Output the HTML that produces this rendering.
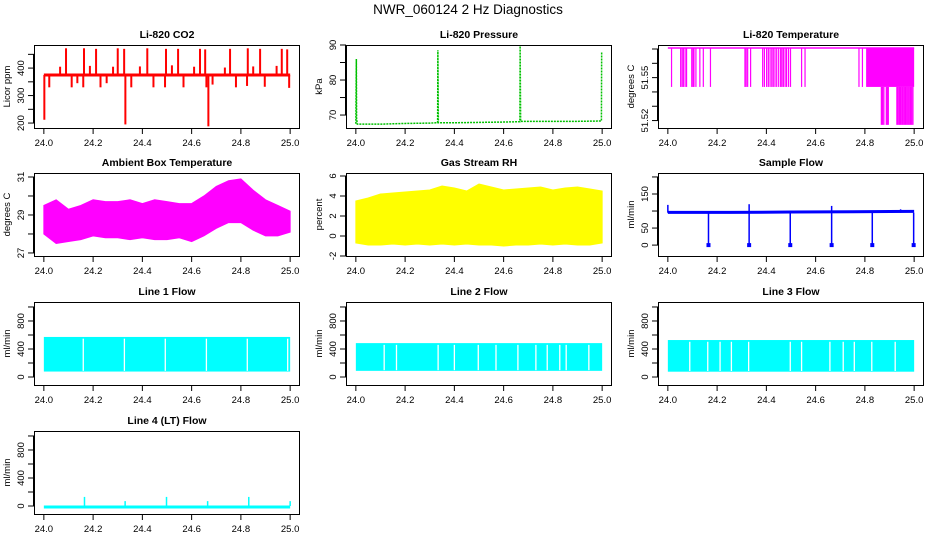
<!DOCTYPE html>
<html><head><meta charset="utf-8"><style>
body{margin:0;background:#fff;}
svg{display:block;font-family:"Liberation Sans",Arial,sans-serif;}
</style></head><body>
<svg id="chart" width="936" height="540" viewBox="0 0 936 540" xmlns="http://www.w3.org/2000/svg">
<rect x="0" y="0" width="936" height="540" fill="#fff"/>
<text x="468" y="14" text-anchor="middle" font-size="13.5">NWR_060124  2 Hz Diagnostics</text>
</svg>
<script>
// ---- data ----
const xTicks = [24.0, 24.2, 24.4, 24.6, 24.8, 25.0];
const xTickLabels = ["24.0", "24.2", "24.4", "24.6", "24.8", "25.0"];
// CO2
const co2Base = [375];
const co2SpikeX = [24.09,24.163,24.212,24.30,24.326,24.42,24.496,24.545,24.634,24.655,24.756,24.828,24.878,24.966,24.988,
  24.066,24.187,24.281,24.39,24.52,24.61,24.735,24.85,24.945,
  24.022,24.113,24.136,24.16,24.23,24.255,24.355,24.445,24.492,24.567,24.66,24.685,24.78,24.825,24.897,24.996,
  24.331,24.668,24.002];
const co2SpikeY = [472,472,470,472,470,472,470,470,470,468,470,472,470,470,468,
  405,408,405,406,410,405,402,406,408,
  330,330,345,330,330,345,330,330,330,330,330,340,330,335,332,328,
  195,188,212];
// Pressure
const presX = [24.0,24.002,24.003,24.006,24.1,24.2,24.3,24.332,24.333,24.335,24.4,24.5,24.6,24.666,24.667,24.669,24.8,24.9,24.997,24.998,25.0];
const presY = [67.5,86,69,67.4,67.4,67.6,67.7,67.8,88.5,67.8,67.8,67.9,68.0,68.1,89.7,68.2,68.2,68.2,68.3,88,88];
// Li-820 temperature
const ltTop = [51.5707];
const ltDropX = [24.015,24.052,24.058,24.063,24.07,24.076,24.097,24.102,24.106,24.114,24.13,24.144,24.173,24.313,24.318,24.324,24.336,
  24.385,24.392,24.401,24.408,24.415,24.422,24.428,24.435,24.442,24.45,24.458,24.463,24.469,24.476,24.482,24.49,24.498,24.543,24.557,24.776,24.79];
const ltDropY = [51.5435];
const ltBandStart = [24.805];
const ltLowX = [24.867,24.872,24.877,24.887,24.891,24.895,24.93,24.935,24.94,24.945,24.95,24.955,24.96,24.965,24.97,24.975,24.98,24.985,24.99,24.995];
const ltLowY = [51.517];
// Ambient box temperature (envelope per 0.05 day)
const ambX = [24.0,24.05,24.1,24.15,24.2,24.25,24.3,24.35,24.4,24.45,24.5,24.55,24.6,24.65,24.7,24.75,24.8,24.85,24.9,24.95,25.0];
const ambHi = [29.5,29.8,29.3,29.5,29.8,29.7,29.7,29.8,29.6,29.8,29.7,29.6,29.6,30.0,30.5,30.8,30.9,30.3,29.8,29.5,29.2];
const ambLo = [28.0,27.5,27.6,27.7,27.9,27.8,27.8,27.7,27.8,27.7,27.7,27.8,27.6,27.9,28.3,28.6,28.6,28.2,27.9,27.9,28.1];
// Gas stream RH
const rhX = ambX;
const rhHi = [3.5,3.8,4.2,4.3,4.4,4.5,4.6,5.0,4.8,4.5,5.2,4.9,4.6,4.7,4.8,4.9,4.6,4.8,4.9,4.7,4.5];
const rhLo = [-0.7,-0.9,-0.9,-0.8,-0.9,-0.8,-0.9,-0.8,-0.9,-0.8,-0.9,-0.9,-1.0,-0.9,-0.9,-0.8,-0.9,-0.8,-0.9,-0.9,-0.7];
// Sample flow
const sfX = [24.0,24.25,24.5,24.75,25.0];
const sfY = [96,96,97,98,99];
const sfDropX = [24.165,24.33,24.497,24.665,24.83,24.998];
const sfSpikeX = [24.0,24.33,24.665,24.945];
const sfSpikeY = [118,120,115,105];
// Line flows: band lo/hi and gap positions
const l1Lo = [78], l1Hi = [572];
const l1GapX = [24.16,24.327,24.493,24.66,24.826,24.99];
const l2Lo = [88], l2Hi = [484];
const l2GapX = [24.115,24.165,24.334,24.4,24.497,24.569,24.658,24.731,24.777,24.828,24.854,24.946];
const l3Lo = [76], l3Hi = [528];
const l3GapX = [24.089,24.162,24.212,24.258,24.328,24.497,24.543,24.658,24.712,24.757,24.828,24.923];
const l4Base = [0];
const l4SpikeX = [24.165,24.33,24.498,24.665,24.832,25.0];
const l4SpikeY = [130,70,130,70,130,70];

// ---- layout ----
const NS = "http://www.w3.org/2000/svg";
const svg = document.getElementById('chart');
function mk(tag, attrs, parent) {
  const e = document.createElementNS(NS, tag);
  for (const k in attrs) e.setAttribute(k, attrs[k]);
  (parent || svg).appendChild(e);
  return e;
}
const colL = [34, 346, 658], rowT = [45, 173, 302, 431], W = 266, H = 83;
function panel(ci, ri, title, ylab, ymin, ymax, yticks, ylabels, name) {
  const L = colL[ci], T = rowT[ri];
  const g = mk('g', {});
  
  
  const x0 = 24 - 0.04, x1 = 25 + 0.04;
  const sx = v => L + (v - x0) / (x1 - x0) * W;
  const sy = v => T + H - (v - ymin) / (ymax - ymin) * H;
  const t = mk('text', {x: L + W / 2, y: T - 7, 'text-anchor': 'middle', 'font-size': 10.5, 'font-weight': 'bold'}, g);
  t.textContent = title;
  
  
  const plot = mk('g', {}, g);
  
  
  // x axis
  const xa = mk('g', {}, g);
  
  
  mk('line', {x1: sx(24), x2: sx(25), y1: T + H + 0.5, y2: T + H + 0.5, stroke: '#000'}, xa);
  xTicks.forEach((v, i) => {
    mk('line', {x1: sx(v), x2: sx(v), y1: T + H, y2: T + H + 6, stroke: '#000'}, xa);
    const tl = mk('text', {x: sx(v), y: T + H + 18, 'text-anchor': 'middle', 'font-size': 9.5}, xa);
    tl.textContent = xTickLabels[i];
    
    
  });
  // y axis
  const ya = mk('g', {}, g);
  
  
  mk('line', {x1: L - 0.5, x2: L - 0.5, y1: sy(yticks[0]), y2: sy(yticks[yticks.length - 1]), stroke: '#000'}, ya);
  yticks.forEach(v => mk('line', {x1: L - 6, x2: L, y1: sy(v), y2: sy(v), stroke: '#000'}, ya));
  ylabels.forEach(v => {
    const yl = mk('text', {x: 0, y: 0, 'text-anchor': 'middle', 'font-size': 9.5,
      transform: 'translate(' + (L - 10) + ',' + sy(v) + ') rotate(-90)'}, ya);
    yl.textContent = String(v);
    
    
  });
  const yt = mk('text', {x: 0, y: 0, 'text-anchor': 'middle', 'font-size': 9.5,
    transform: 'translate(' + (L - 24) + ',' + (T + H / 2) + ') rotate(-90)'}, g);
  yt.textContent = ylab;
  
  
  const box = mk('rect', {x: L + 0.5, y: T + 0.5, width: W - 1, height: H, fill: 'none', stroke: '#000'}, g);
  
  
  return {sx, sy, g: plot};
}
function vline(p, x, a, b, color, w) {
  const e = mk('line', {x1: p.sx(x), x2: p.sx(x), y1: p.sy(a), y2: p.sy(b), stroke: color, 'stroke-width': w || 1}, p.g);
  return e;
}
function band(p, xs, lo, hi, color) {
  let pts = xs.map((x, i) => p.sx(x) + ',' + p.sy(hi[i]));
  for (let i = xs.length - 1; i >= 0; i--) pts.push(p.sx(xs[i]) + ',' + p.sy(lo[i]));
  return mk('polygon', {points: pts.join(' '), fill: color, stroke: color}, p.g);
}

// CO2
let p = panel(0, 0, 'Li-820 CO2', 'Licor ppm', 182, 484, [200,250,300,350,400,450], [200,300,400], 'co2');
let e = mk('line', {x1: p.sx(24), x2: p.sx(25), y1: p.sy(co2Base[0]), y2: p.sy(co2Base[0]), stroke: 'red', 'stroke-width': 3}, p.g);


co2SpikeX.forEach((x, i) => {
  const s = vline(p, x, co2Base[0], co2SpikeY[i], 'red', 2);
  
  
});

// Pressure
p = panel(1, 0, 'Li-820 Pressure', 'kPa', 66.3, 90, [70,75,80,85,90], [70,80,90], 'pressure');
e = mk('polyline', {points: presX.map((x, i) => p.sx(x) + ',' + p.sy(presY[i])).join(' '), fill: 'none', stroke: '#00c000', 'stroke-width': 1.5, 'stroke-dasharray': '2,1'}, p.g);



// Li-820 temperature
p = panel(2, 0, 'Li-820 Temperature', 'degrees C', 51.5148, 51.5728, [51.52,51.53,51.54,51.55,51.56,51.57], ['51.52','51.55'], 'licor-temp');
e = mk('line', {x1: p.sx(24), x2: p.sx(25), y1: p.sy(ltTop[0]), y2: p.sy(ltTop[0]), stroke: '#ff00ff', 'stroke-width': 1.5}, p.g);


ltDropX.forEach(x => {
  const s = vline(p, x, ltTop[0], ltDropY[0], '#ff00ff', 1.2);
  
  
});
e = mk('rect', {x: p.sx(ltBandStart[0]), y: p.sy(ltTop[0]), width: p.sx(25) - p.sx(ltBandStart[0]), height: p.sy(ltDropY[0]) - p.sy(ltTop[0]), fill: '#ff00ff'}, p.g);


ltLowX.forEach(x => {
  const s = vline(p, x, ltDropY[0], ltLowY[0], '#ff00ff', 1.3);
  
  
});

// Ambient
p = panel(0, 1, 'Ambient Box Temperature', 'degrees C', 26.84, 31.21, [27,28,29,30,31], [27,29,31], 'ambient');
e = band(p, ambX, ambLo, ambHi, '#ff00ff');



// RH
p = panel(1, 1, 'Gas Stream RH', 'percent', -2.0, 6.3, [-2,0,2,4,6], [-2,0,2,4,6], 'rh');
e = band(p, rhX, rhLo, rhHi, '#ffff00');



// Sample flow
p = panel(2, 1, 'Sample Flow', 'ml/min', -32, 211.6, [0,50,100,150,200], [0,50,150], 'sample-flow');
e = mk('polyline', {points: sfX.map((x, i) => p.sx(x) + ',' + p.sy(sfY[i])).join(' '), fill: 'none', stroke: '#0000ff', 'stroke-width': 3}, p.g);


sfDropX.forEach(x => {
  const s = vline(p, x, 95, 0, '#0000ff', 1.5);
  
  
  const d = mk('rect', {x: p.sx(x) - 2, y: p.sy(0) - 2, width: 4, height: 4, fill: '#0000ff'}, p.g);
  
  
});
sfSpikeX.forEach((x, i) => {
  const s = vline(p, x, 95, sfSpikeY[i], '#0000ff', 1.5);
  
  
});

// Line flows
const fT = [0,200,400,600,800,1000], fL = [0,400,800];
function flowPanel(ci, ri, title, name, lo, hi, gaps) {
  const q = panel(ci, ri, title, 'ml/min', -114, 1071, fT, fL, name);
  const r = mk('rect', {x: q.sx(24), y: q.sy(hi[0]), width: q.sx(25) - q.sx(24), height: q.sy(lo[0]) - q.sy(hi[0]), fill: '#00ffff'}, q.g);
  
  
  gaps.forEach(x => {
    const s = vline(q, x, lo[0] + 10, hi[0] - 25, '#fff', 1.3);
    
    
  });
  return q;
}
flowPanel(0, 2, 'Line 1 Flow', 'line1-flow', l1Lo, l1Hi, l1GapX);
flowPanel(1, 2, 'Line 2 Flow', 'line2-flow', l2Lo, l2Hi, l2GapX);
flowPanel(2, 2, 'Line 3 Flow', 'line3-flow', l3Lo, l3Hi, l3GapX);
p = panel(0, 3, 'Line 4 (LT) Flow', 'ml/min', -114, 1071, fT, fL, 'line4-flow');
e = mk('line', {x1: p.sx(24), x2: p.sx(25), y1: p.sy(l4Base[0]) + 1, y2: p.sy(l4Base[0]) + 1, stroke: '#00ffff', 'stroke-width': 3}, p.g);


l4SpikeX.forEach((x, i) => {
  const s = vline(p, x, l4Base[0], l4SpikeY[i], '#00ffff', 1.5);
  
  
});
</script>
</body></html>
